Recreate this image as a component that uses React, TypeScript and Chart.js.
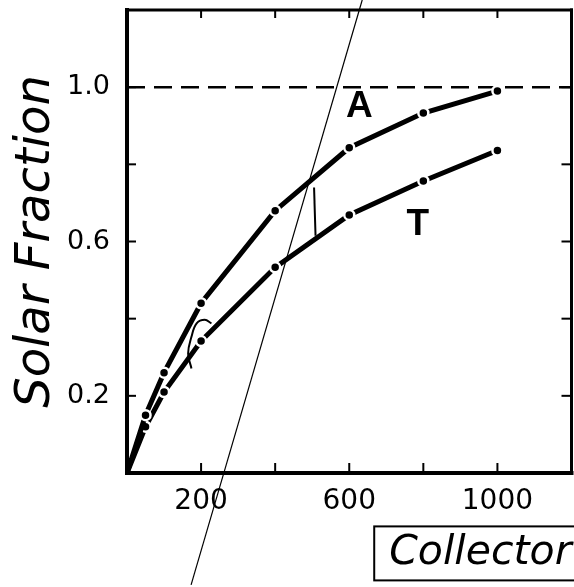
import React, { useEffect, useRef } from "react";
import { Chart, registerables } from "chart.js";

Chart.register(...registerables);

// ---- data ----
const collectorArea = [0, 50, 100, 200, 400, 600, 800, 1000];
const fractionA = [0, 0.15, 0.26, 0.44, 0.68, 0.843, 0.933, 0.99];
const fractionT = [0, 0.12, 0.21, 0.342, 0.533, 0.669, 0.757, 0.836];

const xLabelValues = [200, 600, 1000];
const yLabelValues = [0.2, 0.6, 1.0];

const limitX = [0, 1200];
const limitY = [1.0, 1.0];

const curveNames = ["A", "T"];
const curveLabelX = [627, 785];
const curveLabelY = [0.948, 0.643];

// thin stray stroke crossing the scanned figure
const strokeX = [173, 635];
const strokeY = [-0.29, 1.226];
// short connector mark between the curves
const markX = [505, 509];
const markY = [0.74, 0.615];
// small hand-drawn hook near x = 200
const hookX = [174, 165, 174, 188, 210, 228];
const hookY = [0.271, 0.31, 0.353, 0.388, 0.397, 0.388];

const X_TITLE = "Collector";
const Y_TITLE = "Solar Fraction";
const X_TITLE_SIZE = 41;
const X_TITLE_PAD = 9;

const CANVAS_W = 579;
const CANVAS_H = 587;

const pts = (xs: number[], ys: number[]) => xs.map((x, i) => ({ x, y: ys[i] }));

const framePlugin = {
  id: "frameAndMarks",
  afterDatasetsDraw(chart: any) {
    const { ctx, chartArea } = chart;
    const { left, right, top, bottom } = chartArea;
    const xs = chart.scales.x;
    const ys = chart.scales.y;
    ctx.save();
    ctx.strokeStyle = "#000";
    ctx.fillStyle = "#000";
    const line = (x1: number, y1: number, x2: number, y2: number) => {
      ctx.beginPath();
      ctx.moveTo(x1, y1);
      ctx.lineTo(x2, y2);
      ctx.stroke();
    };
    // inward tick marks on all four sides
    ctx.lineWidth = 2;
    xs.ticks.forEach((t: any) => {
      if (t.value <= xs.min || t.value >= xs.max) return;
      const px = xs.getPixelForValue(t.value);
      line(px, bottom, px, bottom - 10);
      line(px, top, px, top + 8);
    });
    ys.ticks.forEach((t: any) => {
      if (t.value <= ys.min || t.value >= ys.max) return;
      const py = ys.getPixelForValue(t.value);
      line(left, py, left + 9, py);
      line(right, py, right - 10, py);
    });
    // frame
    ctx.lineCap = "square";
    ctx.lineWidth = 3;
    line(left, top, right, top);
    line(right, top, right, bottom);
    ctx.lineWidth = 4;
    line(left, bottom, right, bottom);
    line(left, top, left, bottom);

    // curve labels
    ctx.font = 'bold 37px "Liberation Sans", Arial, sans-serif';
    ctx.textAlign = "center";
    ctx.textBaseline = "middle";
    curveNames.forEach((n, i) => {
      ctx.fillText(n, xs.getPixelForValue(curveLabelX[i]), ys.getPixelForValue(curveLabelY[i]));
    });

    // box around the x-axis title
    ctx.font = `italic ${X_TITLE_SIZE}px "DejaVu Sans"`;
    const w = ctx.measureText(X_TITLE).width;
    const cy = xs.bottom - X_TITLE_PAD - (X_TITLE_SIZE * 1.2) / 2;
    ctx.lineWidth = 2;
    ctx.strokeRect(xs.right - w - 15, cy - 27, w + 40, 54);
    ctx.restore();
  },
};

const zeroPad = (s: any) => {
  s.paddingTop = 0;
  s.paddingBottom = 0;
  s.paddingLeft = 0;
  s.paddingRight = 0;
};

export default function App() {
  const ref = useRef<HTMLCanvasElement | null>(null);

  useEffect(() => {
    if (!ref.current) return;
    const chart = new Chart(ref.current, {
      type: "line",
      data: {
        datasets: [
          {
            label: "A",
            data: pts(collectorArea, fractionA),
            borderColor: "#000",
            borderWidth: 5,
            pointRadius: collectorArea.map((v) => (v === 0 ? 0 : 5)),
            pointBackgroundColor: "#000",
            pointBorderColor: "#fff",
            pointBorderWidth: 2.5,
            tension: 0,
          },
          {
            label: "T",
            data: pts(collectorArea, fractionT),
            borderColor: "#000",
            borderWidth: 5,
            pointRadius: collectorArea.map((v) => (v === 0 ? 0 : 5)),
            pointBackgroundColor: "#000",
            pointBorderColor: "#fff",
            pointBorderWidth: 2.5,
            tension: 0,
          },
          {
            label: "limit",
            data: pts(limitX, limitY),
            borderColor: "#000",
            borderWidth: 2.5,
            borderDash: [18, 9],
            pointRadius: 0,
          },
          {
            label: "stroke",
            data: pts(strokeX, strokeY),
            borderColor: "#000",
            borderWidth: 1.2,
            pointRadius: 0,
            clip: false,
          } as any,
          {
            label: "mark",
            data: pts(markX, markY),
            borderColor: "#000",
            borderWidth: 2,
            pointRadius: 0,
          },
          {
            label: "hook",
            data: pts(hookX, hookY),
            borderColor: "#000",
            borderWidth: 2,
            pointRadius: 0,
            tension: 0.4,
          },
        ],
      },
      options: {
        animation: false,
        responsive: false,
        layout: { padding: { top: 10, right: 0, left: 0, bottom: 0 } },
        plugins: {
          legend: { display: false },
          tooltip: { enabled: false },
        },
        scales: {
          x: {
            type: "linear",
            min: 0,
            max: 1200,
            grid: { display: false, drawTicks: false },
            border: { display: false },
            ticks: {
              stepSize: 200,
              autoSkip: false,
              maxRotation: 0,
              padding: 12,
              color: "#000",
              font: { family: "DejaVu Sans", size: 28 },
              callback: (v: any) => (xLabelValues.includes(Number(v)) ? String(v) : ""),
            },
            title: {
              display: true,
              text: X_TITLE,
              align: "end",
              color: "#000",
              font: { family: "DejaVu Sans", size: X_TITLE_SIZE, style: "italic" },
              padding: { top: 0, bottom: X_TITLE_PAD },
            },
            afterFit: (s: any) => {
              s.height = 114;
              zeroPad(s);
            },
          },
          y: {
            type: "linear",
            min: 0,
            max: 1.2,
            grid: { display: false, drawTicks: false },
            border: { display: false },
            ticks: {
              stepSize: 0.2,
              autoSkip: false,
              padding: 17,
              color: "#000",
              font: { family: "DejaVu Sans", size: 27 },
              callback: (v: any) =>
                yLabelValues.some((l) => Math.abs(l - Number(v)) < 1e-6) ? Number(v).toFixed(1) : "",
            },
            title: {
              display: true,
              text: Y_TITLE,
              color: "#000",
              font: { family: "DejaVu Sans", size: 48, style: "italic" },
              padding: { top: 8, bottom: 0 },
            },
            afterFit: (s: any) => {
              s.width = 127;
              zeroPad(s);
            },
          },
        },
      },
      plugins: [framePlugin],
    });
    return () => chart.destroy();
  }, []);

  return (
    <div
      style={{
        position: "fixed",
        left: 0,
        top: 0,
        width: 574,
        height: 587,
        overflow: "hidden",
        background: "#fff",
      }}
    >
      <canvas ref={ref} width={CANVAS_W} height={CANVAS_H} style={{ display: "block" }} />
    </div>
  );
}
